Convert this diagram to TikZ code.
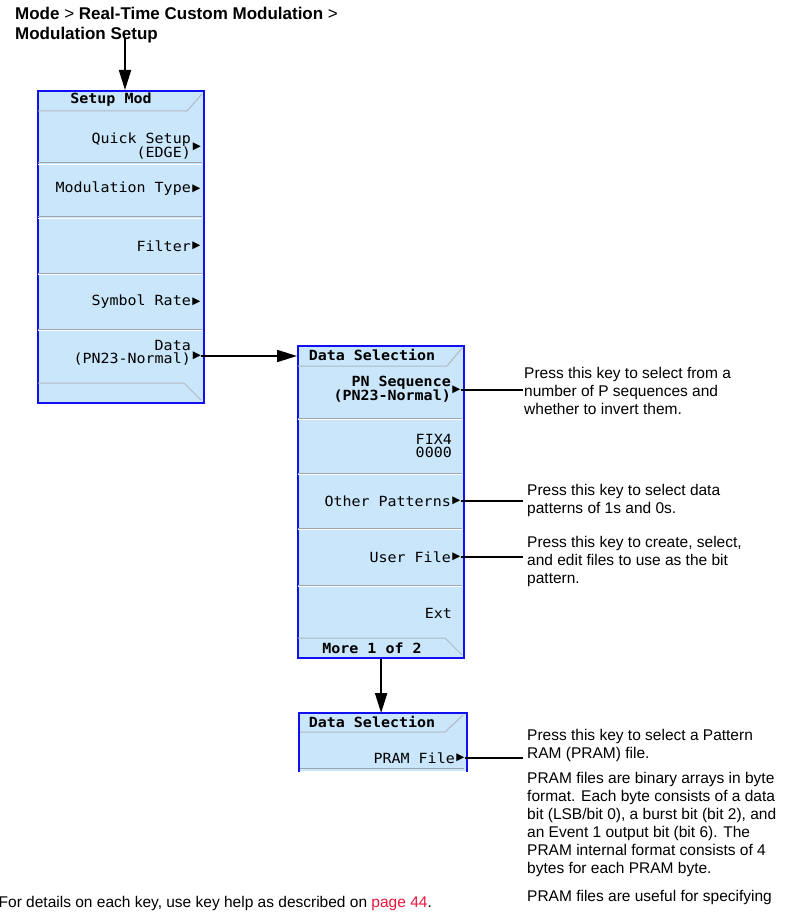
\documentclass[tikz,border=0pt]{standalone}
\usepackage{fontspec}
\setmainfont{Liberation Sans}
\newfontfamily\keyfont[FakeStretch=1.07]{DejaVu Sans Mono}
\newfontfamily\trifont{DejaVu Sans}
\usepackage{tikz}
\usetikzlibrary{positioning,arrows.meta}
\definecolor{keyfill}{HTML}{C9E6FB}
\definecolor{frameblue}{HTML}{1010F0}
\definecolor{sepgray}{HTML}{9DA6AF}
\definecolor{pagered}{HTML}{E6173C}

\begin{document}
\begin{tikzpicture}[
  x=1pt, y=-1pt,
  menu/.style={rectangle, fill=keyfill, draw=frameblue, line width=2.2pt, minimum width=166pt, inner sep=0pt, anchor=north west},
  sep/.style={draw=sepgray, line width=1pt},
  tab/.style={draw=sepgray!80, line width=1pt},
  keytext/.style={font=\keyfont\fontsize{14}{13.5}\selectfont, align=right, inner sep=0pt, anchor=east},
  keyhead/.style={font=\keyfont\fontsize{14}{13.5}\selectfont\bfseries, inner sep=0pt},
  tri/.style={font=\trifont\fontsize{10.5}{10}\selectfont, inner sep=0pt},
  note/.style={font=\fontsize{15.5}{18}\selectfont, align=left, inner sep=0pt, anchor=north west},
  arr/.style={-{Triangle[length=20pt,width=12pt]}, line width=2pt},
  callout/.style={line width=1.6pt},
]
\useasboundingbox (0,0) rectangle (787,917);

% menu path
\node[anchor=north west, inner sep=0pt, align=left, font=\fontsize{17}{20}\selectfont] (modePath) at (15,6.6)
  {\textbf{Mode} > \textbf{Real-Time Custom Modulation} >\\\textbf{Modulation Setup}};
\coordinate (pathEnd) at (125,38);

% Setup Mod menu
\node[menu, minimum height=312pt] (setupMenu) at (37,90) {};
\draw[tab] (38,111) -- (187,111) -- (202,94);
\foreach \y in {163,217,273,329}{
  \draw[sep] (38,\y) -- (202,\y);
  \draw[white, line width=1pt] (38,\y+1.5) -- (202,\y+1.5);
}
\draw[tab] (38,383) -- (184,383) -- (201,400);
\node[keyhead] (setupHead) at (111,100) {Setup Mod};
\node[keytext] (quickKey) at (191,146) {Quick Setup\\(EDGE)};
\node[tri] (quickTri) at (197,147) {▶};
\node[keytext] (modKey) at (191,189) {Modulation Type};
\node[tri] (modTri) at (196.5,189) {▶};
\node[keytext] (filterKey) at (191,246) {Filter};
\node[tri] (filterTri) at (196.5,246) {▶};
\node[keytext] (rateKey) at (191,302) {Symbol Rate};
\node[tri] (rateTri) at (196.5,302) {▶};
\node[keytext] (dataKey) at (191,353) {Data\\(PN23-Normal)};
\node[tri] (dataTri) at (197,356) {▶};

% Data Selection menu, page 1
\node[menu, minimum height=312pt] (selMenu) at (297,345) {};
\draw[tab] (298,366) -- (447,366) -- (462,348);
\foreach \y in {418,473,528,585}{
  \draw[sep] (298,\y) -- (462,\y);
  \draw[white, line width=1pt] (298,\y+1.5) -- (462,\y+1.5);
}
\draw[tab] (298,638) -- (445,638) -- (462,655);
\node[keyhead] (selHead) at (372,355) {Data Selection};
\node[keytext, font=\keyfont\fontsize{14}{13.5}\selectfont\bfseries] (pnKey) at (451,389) {PN Sequence\\(PN23-Normal)};
\node[tri] (pnTri) at (456.5,390) {▶};
\node[keytext] (fixKey) at (452,446) {FIX4\\0000};
\node[keytext] (otherKey) at (451,501) {Other Patterns};
\node[tri] (otherTri) at (456.5,501) {▶};
\node[keytext] (userKey) at (451,557) {User File};
\node[tri] (userTri) at (456.5,557) {▶};
\node[keytext] (extKey) at (452,613) {Ext};
\node[keyhead] (moreHead) at (372,648) {More 1 of 2};

% Data Selection menu, page 2
\node[menu, draw=none, minimum height=57pt] (pramMenu) at (299,713) {};
\draw[frameblue, line width=2.2pt] (pramMenu.south west) -- (pramMenu.north west) -- (pramMenu.north east) -- (pramMenu.south east);
\draw[tab] (300,732) -- (445,732) -- (463,715);
\draw[sep] (300,768) -- (464,768);
\node[keyhead] (pramHead) at (372,722) {Data Selection};
\node[keytext] (pramKey) at (455,758) {PRAM File};
\node[tri] (pramTri) at (460.5,758) {▶};

% notes
\node[note] (pnNote) at (524,367.3) {Press this key to select from a\\number of P sequences and\\whether to invert them.};
\node[note] (otherNote) at (527,484.3) {Press this key to select data\\patterns of 1s and 0s.};
\node[note] (userNote) at (527,536.3) {Press this key to create, select,\\and edit files to use as the bit\\pattern.};
\node[note] (pramNote) at (527,729.3) {Press this key to select a Pattern\\RAM (PRAM) file.\\[7pt]PRAM files are binary arrays in byte\\format. Each byte consists of a data\\bit (LSB/bit 0), a burst bit (bit 2), and\\an Event 1 output bit (bit 6). The\\PRAM internal format consists of 4\\bytes for each PRAM byte.\\[10pt]PRAM files are useful for specifying};
\node[anchor=base west, inner sep=0pt, font=\fontsize{15.5}{18}\selectfont] (helpNote) at (-1.5,907.5)
  {For details on each key, use key help as described on \textcolor{pagered}{page 44}.};

% connectors
\draw[arr] (pathEnd) -- (pathEnd |- setupMenu.north);
\draw[arr] (dataTri.east) -- (dataTri.east -| selMenu.west);
\draw[arr] (selMenu.south) -- (selMenu.south |- pramMenu.north);
\draw[callout, shorten >=1pt] (pnTri.east) -- (pnTri.east -| pnNote.west);
\foreach \k in {other,user,pram}{\draw[callout, shorten >=4pt] (\k Tri.east) -- (\k Tri.east -| \k Note.west);}
\end{tikzpicture}
\end{document}
